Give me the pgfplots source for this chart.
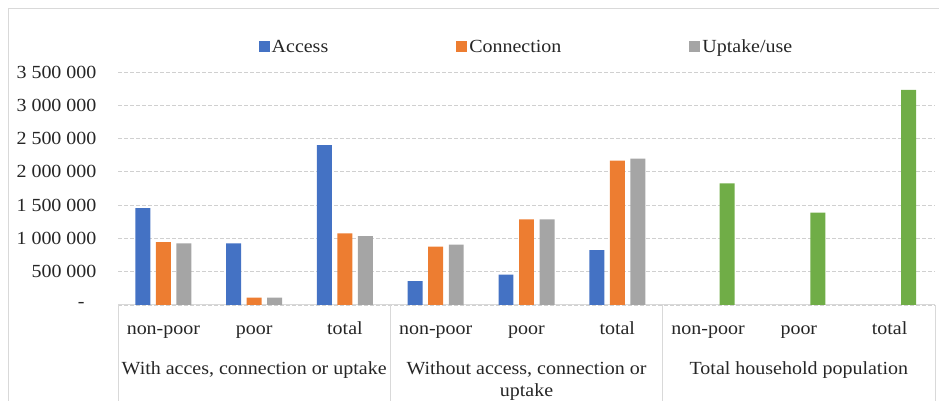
\documentclass[border=0pt]{standalone}
\usepackage{fontspec}
\setmainfont{Liberation Serif}[FakeStretch=1.08]
\usepackage{pgfplots}
\pgfplotsset{compat=1.18}

\definecolor{cAccess}{HTML}{4472C4}
\definecolor{cConn}{HTML}{ED7D31}
\definecolor{cUse}{HTML}{A5A5A5}
\definecolor{cTotal}{HTML}{70AD47}
\definecolor{cGrid}{HTML}{D0D0D0}
\definecolor{cFrame}{HTML}{D9D9D9}
\definecolor{cText}{HTML}{262626}

\newcommand{\lblfont}{\fontsize{18.5}{22}\selectfont}

\begin{document}
\begin{tikzpicture}[x=1pt,y=1pt]
\useasboundingbox (0,0) rectangle (939,401);
% outer chart frame (left and top edges)
\draw[cFrame, line width=1pt] (8,0) -- (8,392) -- (939,392);

\begin{axis}[
  at={(118pt,96pt)}, anchor=south west,
  scale only axis,
  width=817pt, height=233pt,
  xmin=-0.5, xmax=8.5,
  ymin=0, ymax=3500000,
  ybar, bar width=0.165,
  axis x line*=bottom,
  axis y line*=left,
  x axis line style={cFrame, line width=1pt, -},
  y axis line style={draw=none},
  xtick={0,...,8},
  xticklabels={non-poor,poor,total,non-poor,poor,total,non-poor,poor,total},
  xticklabel style={anchor=base, yshift=-30pt, font=\lblfont, text=cText},
  ytick={0,500000,...,3500000},
  yticklabels={{-\hspace*{12pt}},500 000,1 000 000,1 500 000,2 000 000,2 500 000,3 000 000,3 500 000},
  scaled y ticks=false,
  yticklabel style={anchor=east, xshift=-18pt, font=\lblfont, text=cText},
  major tick length=0pt,
  ymajorgrids,
  major grid style={cGrid, line width=0.9pt, dash pattern=on 4pt off 2pt},
  clip=false,
  legend columns=3,
  legend style={at={(0.5,1.107)}, anchor=center, draw=none, fill=none,
    font=\lblfont, text=cText,
    /tikz/every even column/.append style={column sep=126pt}},
  legend image code/.code={\fill[#1] (0pt,-5pt) rectangle (11pt,6pt);},
]
% Access
\addplot[fill=cAccess, draw=none, bar shift=-0.226] coordinates {
  (0,1457000) (1,925000) (2,2403000)
  (3,360000) (4,455000) (5,826000)
};
\addlegendentry{Access}
% Connection
\addplot[fill=cConn, draw=none, bar shift=0] coordinates {
  (0,946000) (1,112000) (2,1076000)
  (3,876000) (4,1287000) (5,2168000)
};
\addlegendentry{Connection}
% Uptake/use
\addplot[fill=cUse, draw=none, bar shift=0.226] coordinates {
  (0,925000) (1,110000) (2,1036000)
  (3,906000) (4,1287000) (5,2198000)
};
\addlegendentry{Uptake/use}
% Total household population
\addplot[fill=cTotal, draw=none, bar shift=0.21, forget plot] coordinates {
  (6,1828000) (7,1387000) (8,3230000)
};

% category table: group separators
\draw[cFrame, line width=1pt] (axis cs:-0.5,0) -- ([yshift=-96pt]axis cs:-0.5,0);
\draw[cFrame, line width=1pt] (axis cs:2.5,0) -- ([yshift=-96pt]axis cs:2.5,0);
\draw[cFrame, line width=1pt] (axis cs:5.5,0) -- ([yshift=-96pt]axis cs:5.5,0);
\draw[cFrame, line width=1pt] (axis cs:8.5,0) -- ([yshift=-96pt]axis cs:8.5,0);
% group captions
\node[anchor=base, font=\lblfont, text=cText] at (axis cs:1,0) [yshift=-69pt] {With acces, connection or uptake};
\node[anchor=base, font=\lblfont, text=cText] at (axis cs:4,0) [yshift=-69pt] {Without access, connection or};
\node[anchor=base, font=\lblfont, text=cText] at (axis cs:4,0) [yshift=-91pt] {uptake};
\node[anchor=base, font=\lblfont, text=cText] at (axis cs:7,0) [yshift=-69pt] {Total household population};
\end{axis}
\end{tikzpicture}
\end{document}
